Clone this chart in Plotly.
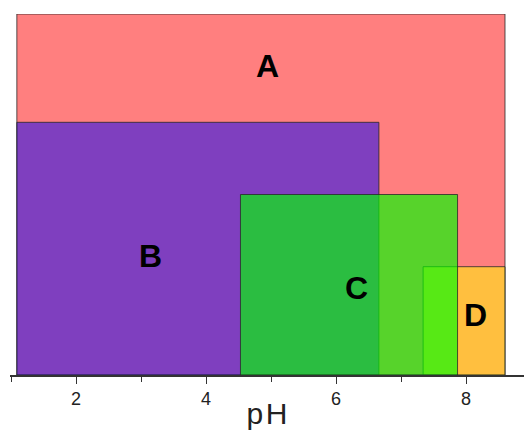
import plotly.graph_objects as go

# pH ranges of the four zones and the relative heights of the boxes
zones = ["A", "B", "C", "D"]
ph_low = [1.09, 1.09, 4.53, 7.34]
ph_high = [8.60, 6.66, 7.87, 8.60]
heights = [1.0, 0.7, 0.5, 0.3]

fills = {
    "A": "rgba(255,0,0,0.5)",
    "B": "rgba(0,0,255,0.5)",
    "C": "rgba(0,255,0,0.66)",
    "D": "rgba(255,255,0,0.5)",
}
# label spots, in axis units
label_pos = {"A": (4.95, 0.857), "B": (3.15, 0.33), "C": (6.32, 0.24), "D": (8.15, 0.165)}

fig = go.Figure()

# D goes under C, like in the original
for i in [0, 1, 3, 2]:
    x0, x1, h = ph_low[i], ph_high[i], heights[i]
    fig.add_trace(go.Scatter(
        x=[x0, x0, x1, x1, x0], y=[0, h, h, 0, 0],
        mode="lines", fill="toself", fillcolor=fills[zones[i]],
        line=dict(color="rgba(40,40,40,0.8)", width=1),
        hoverinfo="skip", showlegend=False))

for z in zones:
    fig.add_annotation(x=label_pos[z][0], y=label_pos[z][1], text="<b>%s</b>" % z,
                       showarrow=False,
                       font=dict(family="Liberation Sans, Arial", size=32, color="black"))

fig.update_layout(
    width=524, height=430,
    margin=dict(l=10, r=0, t=14, b=52),
    plot_bgcolor="white", paper_bgcolor="white",
    showlegend=False,
)
fig.update_xaxes(
    range=[1 - 1 / 65, 1 - 1 / 65 + 514 / 65],
    tickvals=[2, 4, 6, 8], ticks="outside", ticklen=7, tickcolor="#333",
    minor=dict(tickvals=[1, 3, 5, 7], ticks="outside", ticklen=5, tickcolor="#333"),
    showline=True, linecolor="#333", linewidth=1.5,
    showgrid=False, zeroline=False,
    tickfont=dict(family="Liberation Sans, Arial", size=18, color="#222"),
    title=dict(text="p\u200aH", font=dict(family="Liberation Sans, Arial", size=30, color="#222"),
               standoff=0),
)
fig.update_yaxes(range=[0, 1], visible=False)

# page has a default 8px body margin, drop it
fig.write_html("out.html", config={"displayModeBar": False},
               post_script="document.body.style.margin='0';")
